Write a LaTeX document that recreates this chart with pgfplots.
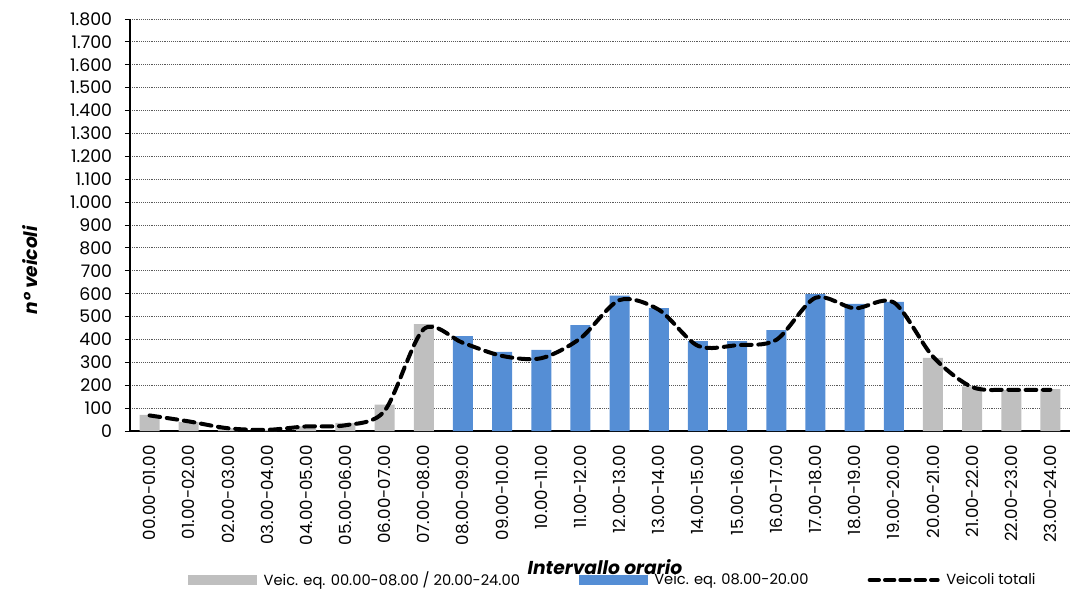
\documentclass[border=0pt]{standalone}
\usepackage{fontspec}
\setmainfont{Poppins}
\usepackage{pgfplots}
\pgfplotsset{compat=1.18}

\definecolor{barGrey}{RGB}{191,191,191}
\definecolor{barBlue}{RGB}{85,142,213}

\begin{document}
\begin{tikzpicture}
% 1px = 0.75pt ; axis box = 940 x 412 px
\path[use as bounding box] (-97.5pt,-118.5pt) rectangle (706.5pt,323.25pt);
\begin{axis}[
    at={(0,0)}, anchor=south west,
    width=705pt, height=309pt, scale only axis,
    xmin=-0.5, xmax=23.5, ymin=0, ymax=1800,
    axis lines*=left,
    axis line style={-, black, line width=0.8pt},
    ytick={0,100,...,1800},
    xtick={0,...,23},
    xticklabels={00.00-01.00,01.00-02.00,02.00-03.00,03.00-04.00,04.00-05.00,05.00-06.00,
        06.00-07.00,07.00-08.00,08.00-09.00,09.00-10.00,10.00-11.00,11.00-12.00,
        12.00-13.00,13.00-14.00,14.00-15.00,15.00-16.00,16.00-17.00,17.00-18.00,
        18.00-19.00,19.00-20.00,20.00-21.00,21.00-22.00,22.00-23.00,23.00-24.00},
    xtick style={draw=none},
    ytick style={black, line width=0.6pt},
    tick align=outside, major tick length=3.75pt,
    ymajorgrids,
    grid style={densely dotted, black!65, line width=0.6pt},
    yticklabel style={inner sep=0pt, font=\fontsize{13}{15}\selectfont},
    yticklabel shift=9.5pt,
    xticklabel style={rotate=90, anchor=east, inner sep=0pt, font=\fontsize{12.5}{15}\selectfont},
    xticklabel shift=6.75pt,
    ylabel={\textbf{\textit{n° veicoli}}},
    ylabel style={at={(axis description cs:-0.1064,0.3908)}, anchor=center,
        font=\fontsize{14}{16}\selectfont},
    xlabel={\textbf{\textit{Intervallo orario}}},
    xlabel style={at={(axis description cs:0.5053,-0.330)}, anchor=center,
        font=\fontsize{14}{16}\selectfont},
    legend columns=3,
    legend style={at={(axis description cs:0.0617,-0.3617)}, anchor=west,
        draw=none, fill=none, inner sep=0pt, outer sep=0pt,
        column sep=0pt, font=\fontsize{11}{13}\selectfont,
        nodes={inner sep=0pt},
        /tikz/every odd column/.append style={column sep=5pt}},
    /pgf/number format/1000 sep={.},
    /pgf/number format/assume math mode=true,
]
\addplot[ybar, bar width=15pt, bar shift=0pt, fill=barGrey, draw=none,
    legend image code/.code={\fill[barGrey] (0pt,-3.5pt) rectangle (51.75pt,3.5pt);}]
    coordinates {(0,70) (1,40) (2,12) (3,5) (4,20) (5,35) (6,115) (7,467)
                 (20,319) (21,195) (22,179) (23,183)};
\addlegendentry{\makebox[236.25pt][l]{Veic. eq. 00.00-08.00 / 20.00-24.00}}
\addplot[ybar, bar width=15pt, bar shift=0pt, fill=barBlue, draw=none,
    legend image code/.code={\fill[barBlue] (0pt,-3.5pt) rectangle (51.75pt,3.5pt);}]
    coordinates {(8,415) (9,346) (10,354) (11,463) (12,591) (13,537) (14,393)
                 (15,393) (16,441) (17,598) (18,555) (19,564)};
\addlegendentry{\makebox[160pt][l]{Veic. eq. 08.00-20.00}}
\addplot[smooth, black, line width=3pt, line cap=round, dash pattern=on 8pt off 5pt,
    legend image code/.code={\draw[black, line width=3pt, dash pattern=on 7pt off 4.5pt] (0pt,0pt) -- (51pt,0pt);}]
    coordinates {(0,68) (1,42) (2,12) (3,5) (4,20) (5,25) (6,88) (7,445)
                 (8,385) (9,328) (10,318) (11,405) (12,572) (13,530) (14,372)
                 (15,375) (16,398) (17,582) (18,536) (19,562) (20,325) (21,192)
                 (22,180) (23,180)};
\addlegendentry{Veicoli totali}
\end{axis}
\end{tikzpicture}
\end{document}
